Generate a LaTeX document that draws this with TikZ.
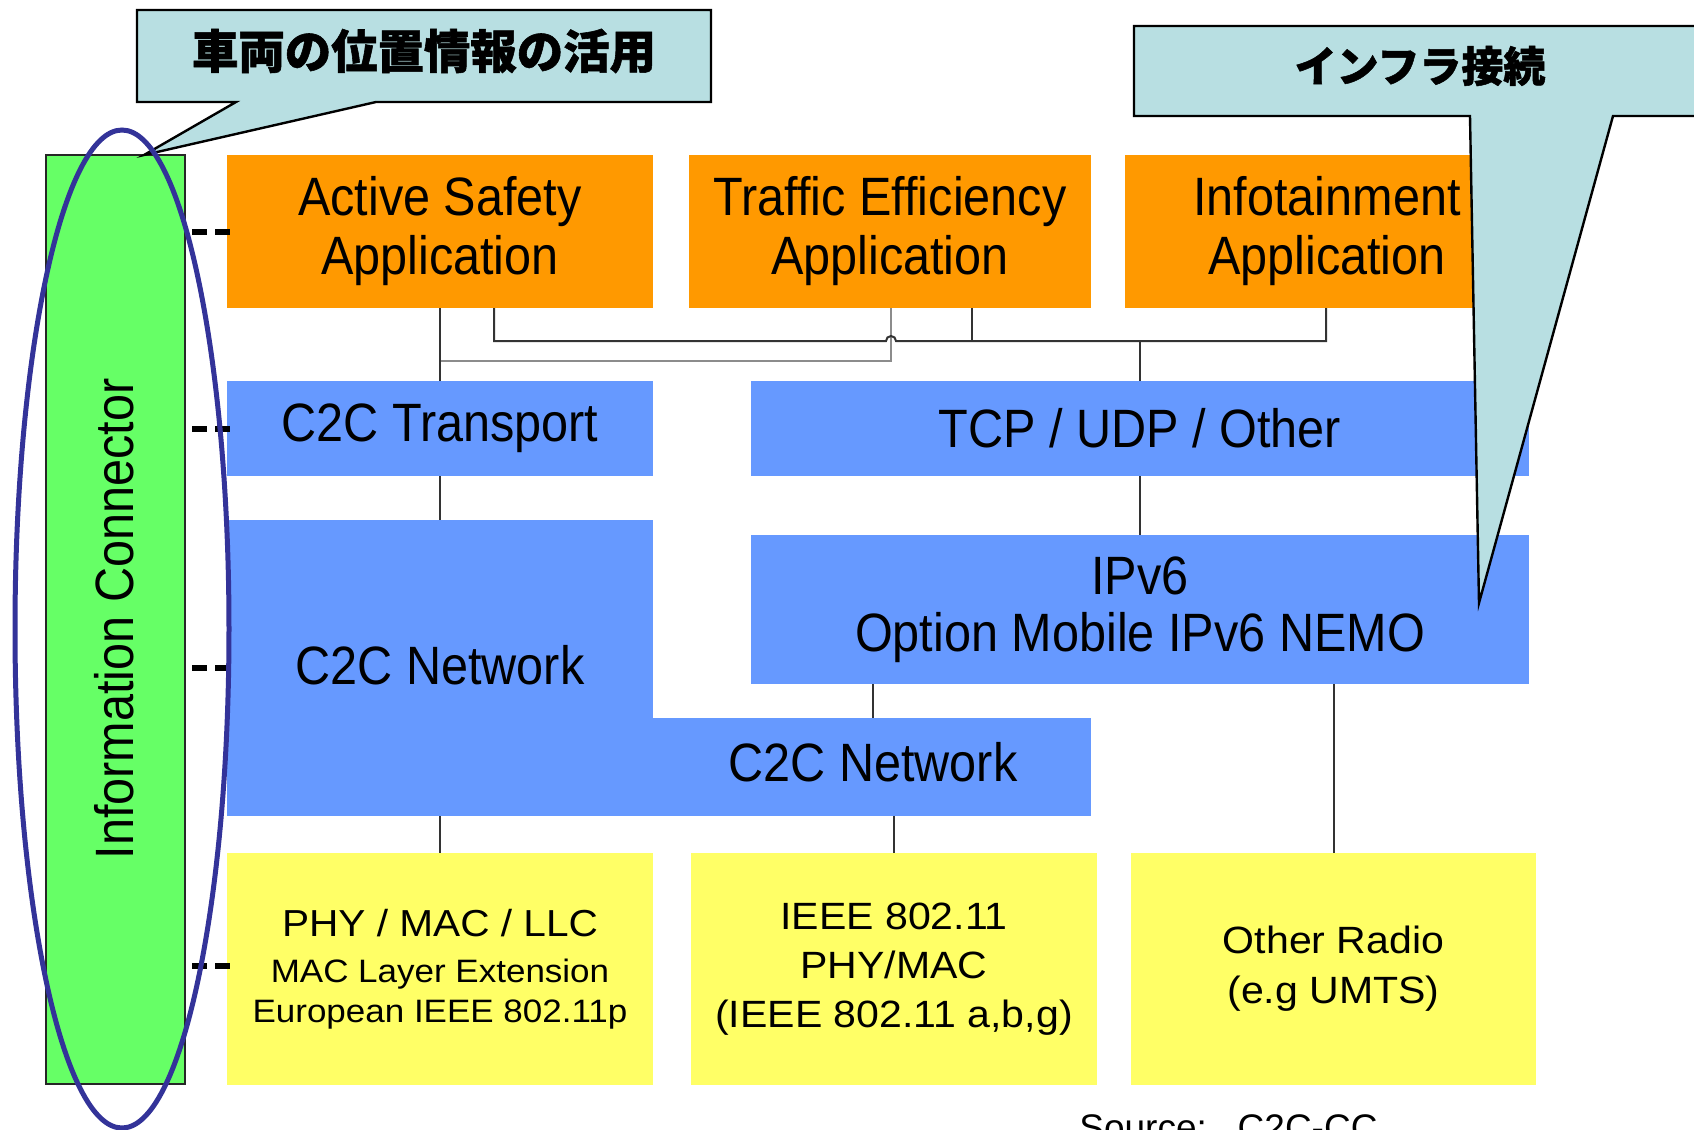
\documentclass[tikz,border=0pt]{standalone}
\usepackage{fontspec}
\setmainfont{Liberation Sans}
\newfontfamily\condfont{Liberation Sans}[FakeStretch=0.9]
\newfontfamily\widefont{Liberation Sans}[FakeStretch=1.08]
\newfontfamily\cjkfont{Noto Sans CJK JP}[BoldFeatures={FakeBold=1.2}]
\usetikzlibrary{calc}
\definecolor{cOrange}{HTML}{FF9900}
\definecolor{cBlue}{HTML}{6699FF}
\definecolor{cYellow}{HTML}{FFFF66}
\definecolor{cGreen}{HTML}{66FF66}
\definecolor{cCallout}{HTML}{B8DFE2}
\definecolor{cRing}{HTML}{333399}
\begin{document}
\begin{tikzpicture}[x=0.5pt,y=-0.5pt,
  lay/.style={rectangle, inner sep=0pt, outer sep=0pt, align=center, text=black},
  bigtxt/.style={font=\condfont\fontsize{27pt}{29.5pt}\selectfont},
  app/.style={lay, bigtxt, fill=cOrange, minimum height=76.5pt},
  netbox/.style={lay, bigtxt, fill=cBlue},
  phy/.style={lay, fill=cYellow, font=\widefont\fontsize{19pt}{24.5pt}\selectfont, minimum height=116pt},
  conn/.style={draw=black!80, line width=1pt},
  conn2/.style={draw=black!45, line width=1.2pt},
  tick/.style={draw=black, line width=3pt, dash pattern=on 7.5pt off 4pt},
  callout/.style={fill=cCallout, draw=black, line width=1.2pt},
  jp/.style={inner sep=0pt, text=black}
]
\useasboundingbox (0,0) rectangle (1694,1130);
\clip (0,0) rectangle (1694,1130);
\fill[white] (0,0) rectangle (1694,1130);

% application layer
\node[app, minimum width=213pt] (AS) at (440,231.5) {Active Safety\\Application};
\node[app, minimum width=201pt] (TE) at (890,231.5) {Traffic Efficiency\\Application};
\node[app, minimum width=202pt] (IN) at (1327,231.5) {Infotainment\\Application};

% transport / network
\node[netbox, minimum width=213pt, minimum height=47.5pt] (CT) at (440,428.5) {C2C Transport};
\node[netbox, minimum width=389pt, minimum height=47.5pt] (TCP) at (1140,428.5) {TCP / UDP / Other};
\node[netbox, minimum width=389pt, minimum height=74.5pt, font=\condfont\fontsize{27pt}{28.5pt}\selectfont] (IP) at (1140,609.5) {IPv6\\Option Mobile IPv6 NEMO};
\node[netbox, minimum width=213pt, minimum height=100pt] (NA) at (440,620) {};
\node[netbox, minimum width=432pt, minimum height=49pt] (NB) at (659,767) {};
\node[lay, bigtxt] (NAt) at (440,665) {C2C Network};
\node[lay, bigtxt] (NBt) at (873,762) {C2C Network};

% physical layer
\node[phy, minimum width=213pt] (PHY) at (440,969) {};
\node[lay, anchor=base, font=\widefont\fontsize{18.8pt}{20pt}\selectfont] (PHYa) at (440,936) {PHY / MAC / LLC};
\node[lay, anchor=base, font=\widefont\fontsize{16.2pt}{18pt}\selectfont] (PHYb) at (440,982) {MAC Layer Extension};
\node[lay, anchor=base, font=\widefont\fontsize{16.2pt}{18pt}\selectfont] (PHYc) at (440,1022) {European IEEE 802.11p};
\node[phy, minimum width=203pt] (IE) at (894,969) {IEEE 802.11\\PHY/MAC\\(IEEE 802.11 a,b,g)};
\node[phy, minimum width=202.5pt, font=\widefont\fontsize{19pt}{25pt}\selectfont] (OR) at (1333.5,969) {Other Radio\\(e.g UMTS)};

% information connector
\node[lay, fill=cGreen, draw=black!85, line width=1pt, minimum width=69.5pt, minimum height=464.5pt] (GR) at (115.5,619.5) {};
\node[lay, bigtxt, rotate=90] (GRt) at (114,619) {Information Connector};

% helper coordinates
\coordinate (xA) at (494,0);
\coordinate (xB) at (972,0);
\coordinate (xC) at (1326,0);
\coordinate (xH) at (891,0);
\coordinate (xL) at (873,0);
\coordinate (yB) at (0,341);
\coordinate (yC) at (0,361);
\coordinate (yN) at (0,668);
\coordinate (yP) at (0,966);

% connectors
\draw[conn2] (TE.south -| xH) -- (xH |- yC) -- (AS.south |- yC);
\draw[conn] (AS.south) -- (CT.north);
\draw[conn] (AS.south -| xA) -- (xA |- yB) -- ($(xH |- yB)+(-5,0)$) arc[start angle=180,end angle=0,radius=2.5pt] -- (xC |- yB) -- (IN.south -| xC);
\draw[conn] (TE.south -| xB) -- (xB |- yB);
\draw[conn] (TCP.north |- yB) -- (TCP.north);
\draw[conn] (CT.south) -- (NA.north);
\draw[conn] (TCP.south) -- (IP.north);
\draw[conn] (IP.south -| xL) -- (NB.north -| xL);
\draw[conn] (NB.south -| PHY.north) -- (PHY.north);
\draw[conn] (NB.south -| IE.north) -- (IE.north);
\draw[conn] (IP.south -| OR.north) -- (OR.north);

% ticks from the information connector
\draw[tick] ($(GR.east |- AS.west)+(7,0)$) -- ($(AS.west)+(4,0)$);
\draw[tick] ($(GR.east |- CT.west)+(7,0)$) -- ($(CT.west)+(4,0)$);
\draw[tick] ($(GR.east |- yN)+(7,0)$) -- ($(NA.west |- yN)+(4,0)$);
\draw[tick] ($(GR.east |- yP)+(7,0)$) -- ($(PHY.west |- yP)+(4,0)$);

% callouts
\path[callout] (137,10) -- (711,10) -- (711,102) -- (376,102) -- (144,155) -- (236,102) -- (137,102) -- cycle;
\node[jp, font=\cjkfont\bfseries\fontsize{23.2pt}{25pt}\selectfont] (C1) at (424,51) {車両の位置情報の活用};
\path[callout] (1134,26) -- (1710,26) -- (1710,116) -- (1613,116) -- (1479,603) -- (1470,116) -- (1134,116) -- cycle;
\node[jp, font=\cjkfont\bfseries\fontsize{21pt}{23pt}\selectfont] (C2) at (1420,66) {インフラ接続};

% ring
\draw[draw=cRing, line width=2.5pt] (122,629) ellipse [x radius=53.5pt, y radius=249.5pt];

% source
\node[inner sep=0pt, anchor=base west, font=\fontsize{18.5pt}{20pt}\selectfont] (SRC) at (1079,1140) {Source:\ \ \ C2C-CC};
\end{tikzpicture}
\end{document}
